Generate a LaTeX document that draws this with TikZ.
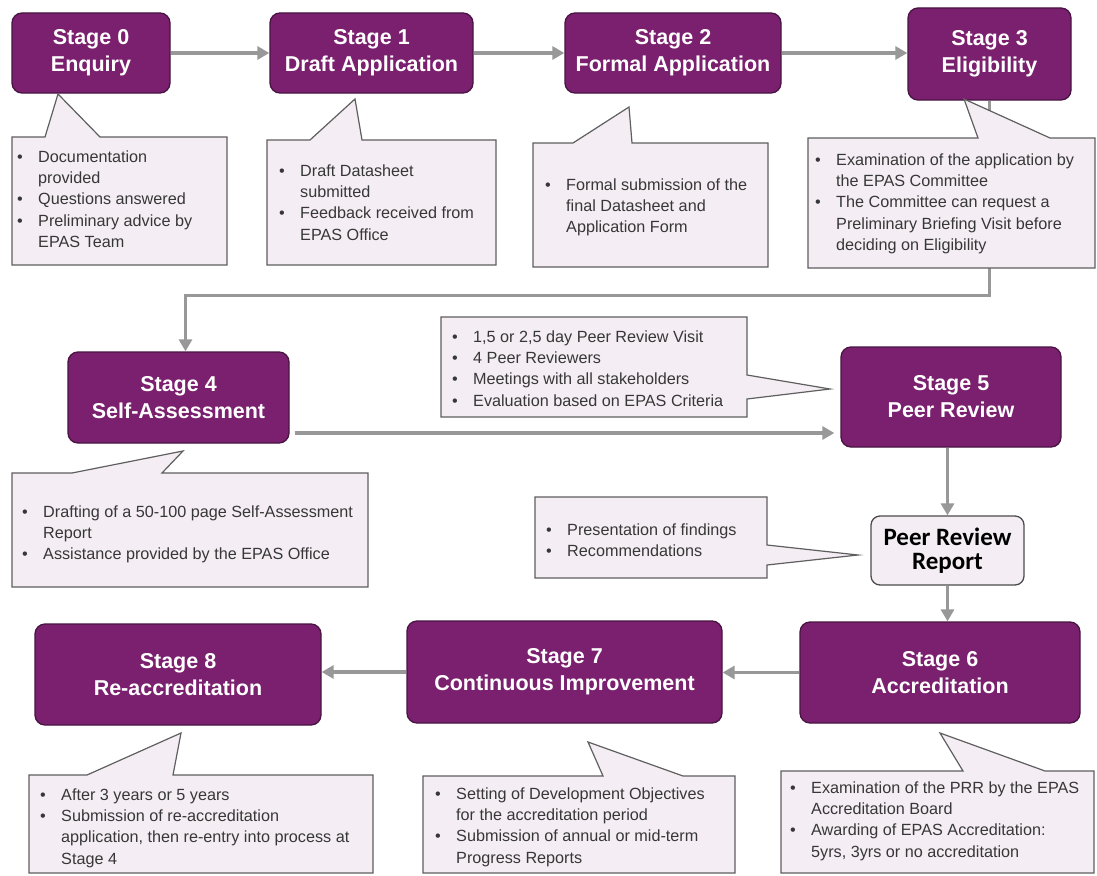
\documentclass[tikz,border=0pt]{standalone}
\usepackage{fontspec}
\setmainfont{Liberation Sans}
\newfontfamily\prrfont{Carlito}
\usetikzlibrary{arrows.meta,calc}
\definecolor{stagepurple}{RGB}{122,32,110}
\definecolor{stageborder}{RGB}{72,20,66}
\definecolor{calloutfill}{RGB}{244,238,244}
\definecolor{calloutborder}{RGB}{95,95,95}
\definecolor{conncol}{RGB}{152,152,152}
\definecolor{bodytext}{RGB}{55,55,55}
\newcommand{\bl}{\makebox[21pt][l]{•}}
\newcommand{\ind}{\hspace*{21pt}}
\tikzset{
  stagebox/.style={draw=stageborder, fill=stagepurple, rounded corners=10pt, line width=1.3pt,
    text=white, font=\fontsize{21.5}{27}\selectfont\bfseries, align=center, inner sep=0pt},
  prrbox/.style={draw=calloutborder!80!black, fill=calloutfill, rounded corners=9pt, line width=1.3pt,
    text=black, font=\prrfont\fontsize{25}{24}\selectfont\bfseries, align=center, inner sep=0pt},
  conn/.style={draw=conncol, line width=3.5pt, -{Triangle[length=12pt,width=13pt]}},
  callout/.style={draw=calloutborder, fill=calloutfill, line width=1.2pt, line join=miter},
  ctext/.style={anchor=north west, inner sep=0pt, align=left, text=bodytext,
    font=\fontsize{16.2}{21.3}\selectfont},
}
\begin{document}
\begin{tikzpicture}[x=1pt,y=-1pt]
\fill[white] (0,0) rectangle (1097,875);
\useasboundingbox (0,0) rectangle (1097,875);

% stage nodes
\node[stagebox, minimum width=158pt, minimum height=80pt] (s0) at (91,53) {Stage 0\\Enquiry};
\node[stagebox, minimum width=203pt, minimum height=80pt] (s1) at (371.5,53) {Stage 1\\Draft Application};
\node[stagebox, minimum width=216pt, minimum height=80pt] (s2) at (673,53) {Stage 2\\Formal Application};
\node[stagebox, minimum width=163pt, minimum height=92pt] (s3) at (989.5,54) {Stage 3\\Eligibility};
\node[stagebox, minimum width=221pt, minimum height=91pt] (s4) at (178.5,397.5) {Stage 4\\Self-Assessment};
\node[stagebox, minimum width=220pt, minimum height=100pt] (s5) at (951,397) {Stage 5\\Peer Review};
\node[prrbox, minimum width=153pt, minimum height=69pt] (prr) at (947.5,550.5) {Peer Review\\Report};
\node[stagebox, minimum width=280pt, minimum height=101pt] (s6) at (940,672.5) {Stage 6\\Accreditation};
\node[stagebox, minimum width=315pt, minimum height=102pt] (s7) at (564.5,672) {Stage 7\\Continuous Improvement};
\node[stagebox, minimum width=286pt, minimum height=101pt] (s8) at (178,674.5) {Stage 8\\Re-accreditation};

% connectors
\draw[conn] (s0.east) -- (s0.east -| s1.west);
\draw[conn] (s1.east) -- (s1.east -| s2.west);
\draw[conn] (s2.east) -- (s2.east -| s3.west);
\draw[conn] (s3.south) -- ++(0,195) -| ($(s4.north)+(7,0)$);
\draw[conn] ($(s4.east)+(5,35.5)$) -- ($(s5.west)+(-6,36)$);
\draw[conn] (s5.south -| prr.north) -- (prr.north);
\draw[conn] (prr.south) -- (prr.south |- s6.north);
\draw[conn] (s6.west) -- (s6.west -| s7.east);
\draw[conn] (s7.west) -- (s7.west -| s8.east);

% callouts
\draw[callout] (12,137) -- (45,137) -- (58,94) -- (100,137) -- (227,137) -- (227,265) -- (12,265) -- cycle;
\draw[callout] (267,140) -- (310,140) -- (355,99) -- (362,140) -- (496,140) -- (496,265) -- (267,265) -- cycle;
\draw[callout] (533,143) -- (573,143) -- (629,107) -- (632,143) -- (768,143) -- (768,267) -- (533,267) -- cycle;
\draw[callout] (808,138) -- (978,138) -- (964,99) -- (1050,138) -- (1095,138) -- (1095,268) -- (808,268) -- cycle;
\draw[callout] (12,473) -- (72,473) -- (183,451) -- (162,473) -- (368,473) -- (368,587) -- (12,587) -- cycle;
\draw[callout] (441,317) -- (747,317) -- (747,375) -- (830,389) -- (747,399) -- (747,417) -- (441,417) -- cycle;
\draw[callout] (535,497) -- (767,497) -- (767,545) -- (858,555) -- (767,565) -- (767,578) -- (535,578) -- cycle;
\draw[callout] (29,775) -- (87,775) -- (181,733) -- (173,775) -- (373,775) -- (373,873) -- (29,873) -- cycle;
\draw[callout] (423,776) -- (603,776) -- (588,742) -- (683,776) -- (735,776) -- (735,873) -- (423,873) -- cycle;
\draw[callout] (781,771) -- (963,771) -- (940,733) -- (1045,771) -- (1094,771) -- (1094,873) -- (781,873) -- cycle;

% callout texts
\node[ctext] (t0) at (17,150.4) {\bl Documentation\\ \ind provided\\ \bl Questions answered\\ \bl Preliminary advice by\\ \ind EPAS Team};
\node[ctext] (t1) at (279,164.4) {\bl Draft Datasheet\\ \ind submitted\\ \bl Feedback received from\\ \ind EPAS Office};
\node[ctext] (t2) at (545,178.4) {\bl Formal submission of the\\ \ind final Datasheet and\\ \ind Application Form};
\node[ctext] (t3) at (815,153.4) {\bl Examination of the application by\\ \ind the EPAS Committee\\ \bl The Committee can request a\\ \ind Preliminary Briefing Visit before\\ \ind deciding on Eligibility};
\node[ctext] (t4) at (22,505.4) {\bl Drafting of a 50-100 page Self-Assessment\\ \ind Report\\ \bl Assistance provided by the EPAS Office};
\node[ctext] (t5) at (452,330.4) {\bl 1,5 or 2,5 day Peer Review Visit\\ \bl 4 Peer Reviewers\\ \bl Meetings with all stakeholders\\ \bl Evaluation based on EPAS Criteria};
\node[ctext] (tp) at (546,523.4) {\bl Presentation of findings\\ \bl Recommendations};
\node[ctext] (t8) at (40,788.4) {\bl After 3 years or 5 years\\ \bl Submission of re-accreditation\\ \ind application, then re-entry into process at\\ \ind Stage 4};
\node[ctext] (t7) at (435,787.4) {\bl Setting of Development Objectives\\ \ind for the accreditation period\\ \bl Submission of annual or mid-term\\ \ind Progress Reports};
\node[ctext] (t6) at (790,781.4) {\bl Examination of the PRR by the EPAS\\ \ind Accreditation Board\\ \bl Awarding of EPAS Accreditation:\\ \ind 5yrs, 3yrs or no accreditation};
\end{tikzpicture}
\end{document}
